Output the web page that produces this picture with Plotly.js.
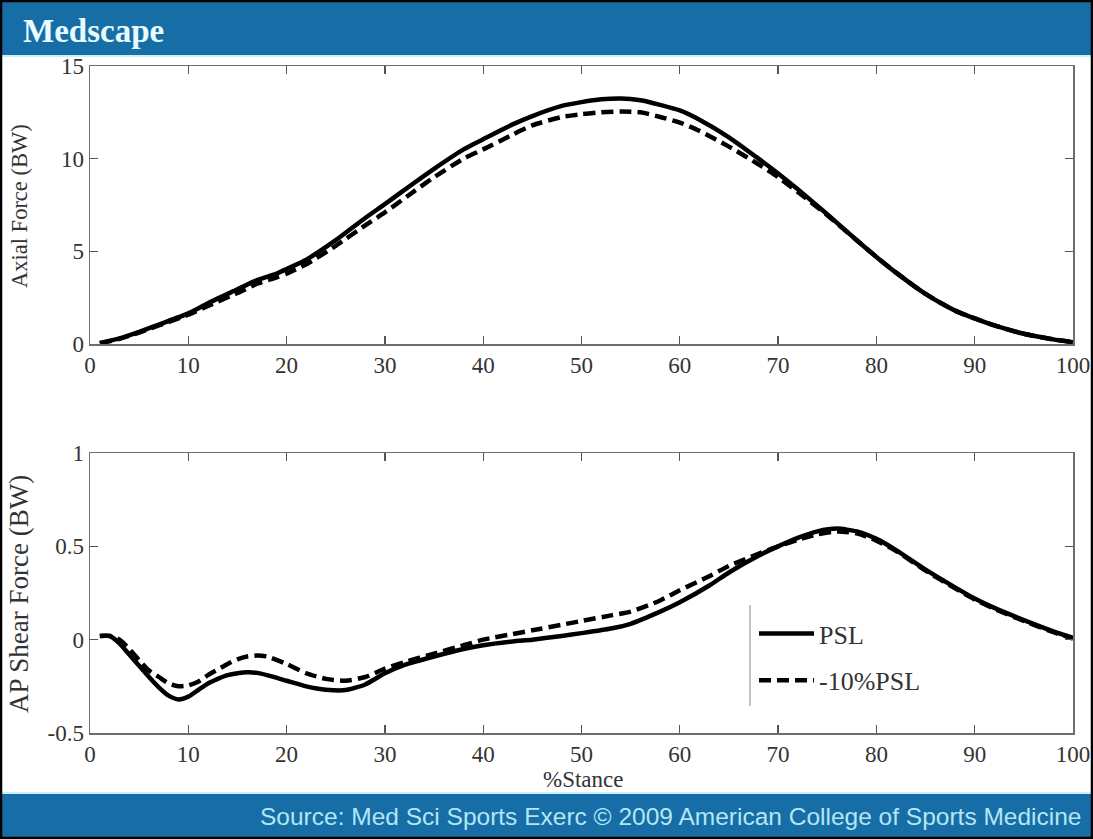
<!DOCTYPE html>
<html>
<head>
<meta charset="utf-8">
<script src="https://cdn.plot.ly/plotly-3.0.1.min.js"></script>
<style>
html,body{margin:0;padding:0;background:#fff;}
#chart{width:1093px;height:839px;}
</style>
</head>
<body>
<div id="chart"></div>
<script>
// ---- data ----
var xAxial = [1,3,5,7,10,12,15,17,19,20,22,25,28,30,33,35,38,40,43,45,48,50,52,54,56,58,60,62,65,68,70,72,75,78,80,82,85,88,90,92,95,98,100];
var axialPSL = [0.05,0.3,0.66,1.05,1.65,2.2,2.95,3.45,3.8,4.05,4.55,5.6,6.8,7.55,8.7,9.45,10.5,11.05,11.85,12.3,12.85,13.05,13.2,13.25,13.15,12.9,12.6,12.1,11.15,10.0,9.2,8.35,7.0,5.6,4.7,3.85,2.7,1.8,1.38,1.0,0.55,0.25,0.1];
var axial10 = [0.03,0.28,0.62,1.0,1.58,2.05,2.75,3.25,3.6,3.8,4.3,5.3,6.4,7.1,8.25,9.0,10.0,10.5,11.3,11.8,12.25,12.4,12.5,12.55,12.5,12.25,11.95,11.5,10.65,9.7,9.0,8.2,6.95,5.6,4.7,3.85,2.7,1.8,1.38,1.0,0.55,0.25,0.1];

var xShear = [1,2,3,4,5,6,7,8,9,10,11,12,13,14,15,16,17,18,20,22,24,26,28,30,32,35,38,40,43,45,48,50,53,55,58,60,63,65,68,70,72,74,76,78,80,82,85,88,90,92,95,98,100];
var shearPSL = [0.02,0.02,-0.02,-0.08,-0.14,-0.2,-0.255,-0.3,-0.32,-0.305,-0.27,-0.235,-0.21,-0.19,-0.18,-0.175,-0.178,-0.19,-0.22,-0.25,-0.268,-0.27,-0.24,-0.18,-0.135,-0.09,-0.05,-0.03,-0.01,0.0,0.02,0.035,0.06,0.085,0.15,0.2,0.29,0.36,0.45,0.5,0.545,0.58,0.595,0.58,0.54,0.48,0.375,0.28,0.22,0.17,0.105,0.045,0.01];
var shear10 = [0.02,0.02,0.0,-0.05,-0.11,-0.165,-0.2,-0.235,-0.25,-0.245,-0.225,-0.19,-0.16,-0.13,-0.105,-0.09,-0.085,-0.09,-0.13,-0.18,-0.21,-0.22,-0.2,-0.155,-0.12,-0.075,-0.03,0.0,0.03,0.05,0.08,0.1,0.13,0.15,0.21,0.265,0.34,0.395,0.46,0.5,0.535,0.565,0.58,0.57,0.53,0.475,0.37,0.275,0.215,0.165,0.1,0.04,0.005];

var xTicks = [0,10,20,30,40,50,60,70,80,90,100];
var axialTicks = [0,5,10,15];
var shearTicks = [-0.5,0,0.5,1];
var shearTickText = ['-0.5','0','0.5','1'];
var seriesNames = ['PSL','-10%PSL'];

// ---- layout helpers ----
var W = 1093, H = 839;
function px(x){return x/W;}
function py(y){return 1 - y/H;}
var serif = 'Liberation Serif, Times New Roman, serif';
var tickFont = {family: serif, size: 23, color: '#333'};
var axisCommon = {
  showgrid:false, zeroline:false, showline:true, linecolor:'#6e6e6e', linewidth:1.5,
  mirror:'ticks', ticks:'inside', ticklen:8, tickwidth:1.2, tickcolor:'#555',
  tickfont: tickFont
};
function ax(extra){ var o = {}; for (var k in axisCommon) o[k]=axisCommon[k]; for (var k2 in extra) o[k2]=extra[k2]; return o; }

var solid = {color:'#000', width:4.5, shape:'spline', smoothing:0.6};
var dashed = {color:'#000', width:4.5, dash:'12px,6px', shape:'spline', smoothing:0.6};

var traces = [
  {x:xAxial, y:axialPSL, xaxis:'x', yaxis:'y', mode:'lines', line:solid, name:seriesNames[0], showlegend:false},
  {x:xAxial, y:axial10, xaxis:'x', yaxis:'y', mode:'lines', line:dashed, name:seriesNames[1], showlegend:false},
  {x:xShear, y:shearPSL, xaxis:'x2', yaxis:'y2', mode:'lines', line:solid, name:seriesNames[0], legendgroup:'a'},
  {x:xShear, y:shear10, xaxis:'x2', yaxis:'y2', mode:'lines', line:dashed, name:seriesNames[1], legendgroup:'b'}
];

var layout = {
  width:W, height:H,
  margin:{l:0,r:0,t:0,b:0},
  paper_bgcolor:'#fff', plot_bgcolor:'#fff',
  showlegend:true,
  legend:{x:px(754), y:py(610), xanchor:'left', yanchor:'top', bgcolor:'rgba(0,0,0,0)', borderwidth:0,
          font:{family:serif, size:26, color:'#333'}, tracegroupgap:10, itemwidth:55},
  xaxis: ax({domain:[px(90),px(1073)], range:[0,100], tickvals:xTicks, anchor:'y'}),
  yaxis: ax({domain:[py(344),py(66)], range:[0,15], tickvals:axialTicks, anchor:'x'}),
  xaxis2: ax({domain:[px(90),px(1073)], range:[0,100], tickvals:xTicks, anchor:'y2'}),
  yaxis2: ax({domain:[py(733),py(453)], range:[-0.5,1], tickvals:shearTicks, ticktext:shearTickText, anchor:'x2'}),
  shapes:[
    {type:'rect', xref:'paper', yref:'paper', x0:0, x1:1, y0:py(55), y1:1, fillcolor:'#176da6', line:{width:0}, layer:'below'},
    {type:'line', xref:'paper', yref:'paper', x0:0, x1:1, y0:py(56), y1:py(56), line:{color:'#c9f1fa', width:2}, layer:'below'},
    {type:'rect', xref:'paper', yref:'paper', x0:0, x1:1, y0:0, y1:py(793), fillcolor:'#176da6', line:{width:0}, layer:'below'},
    {type:'line', xref:'paper', yref:'paper', x0:0, x1:1, y0:py(793), y1:py(793), line:{color:'#c9f1fa', width:2}, layer:'below'},
    {type:'line', xref:'paper', yref:'paper', x0:px(750), x1:px(750), y0:py(605), y1:py(706), line:{color:'#9a9a9a', width:1.2}},
    {type:'rect', xref:'paper', yref:'paper', x0:px(1), x1:px(1092), y0:py(838), y1:py(1), line:{color:'#000', width:2.5}, fillcolor:'rgba(0,0,0,0)'}
  ],
  annotations:[
    {text:'Medscape', xref:'paper', yref:'paper', x:px(21), y:py(31), xanchor:'left', yanchor:'middle', showarrow:false,
     font:{family:serif, size:33, color:'#e8fbff', weight:'bold'}},
    {text:'Source: Med Sci Sports Exerc \u00a9 2009 American College of Sports Medicine', xref:'paper', yref:'paper',
     x:px(1084), y:py(816), xanchor:'right', yanchor:'middle', showarrow:false,
     font:{family:'Liberation Sans, Arial, sans-serif', size:24.5, color:'#b3e6f5'}},
    {text:'Axial Force (BW)', xref:'paper', yref:'paper', x:px(19), y:py(206), xanchor:'center', yanchor:'middle', textangle:-90, showarrow:false,
     font:{family:serif, size:22.5, color:'#333'}},
    {text:'AP Shear Force (BW)', xref:'paper', yref:'paper', x:px(19), y:py(594), xanchor:'center', yanchor:'middle', textangle:-90, showarrow:false,
     font:{family:serif, size:27, color:'#333'}},
    {text:'%Stance', xref:'paper', yref:'paper', x:px(583), y:py(779), xanchor:'center', yanchor:'middle', showarrow:false,
     font:{family:serif, size:23, color:'#333'}}
  ]
};

Plotly.newPlot('chart', traces, layout, {displayModeBar:false, staticPlot:true});
</script>
</body>
</html>
